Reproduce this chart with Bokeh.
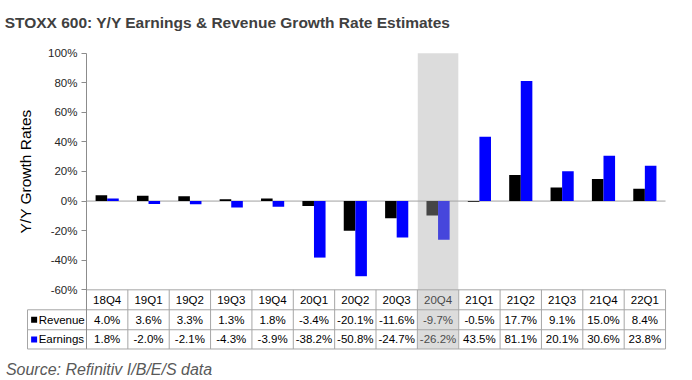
import numpy as np
from bokeh.plotting import figure
from bokeh.models import ColumnDataSource, LinearAxis, FixedTicker, PrintfTickFormatter, Range1d
from bokeh.transform import dodge
from bokeh.core.properties import value
from bokeh.embed import file_html
from bokeh.resources import INLINE

# ---- data ----
categories = ["18Q4", "19Q1", "19Q2", "19Q3", "19Q4", "20Q1", "20Q2",
              "20Q3", "20Q4", "21Q1", "21Q2", "21Q3", "21Q4", "22Q1"]
revenue = [4.0, 3.6, 3.3, 1.3, 1.8, -3.4, -20.1, -11.6, -9.7, -0.5, 17.7, 9.1, 15.0, 8.4]
earnings = [1.8, -2.0, -2.1, -4.3, -3.9, -38.2, -50.8, -24.7, -26.2, 43.5, 81.1, 20.1, 30.6, 23.8]
series_names = ["Revenue", "Earnings"]
highlight = "20Q4"
y_ticks = [-60, -40, -20, 0, 20, 40, 60, 80, 100]

title_text = "STOXX 600: Y/Y Earnings & Revenue Growth Rate Estimates"
source_text = "Source: Refinitiv I/B/E/S data"
y_label = "Y/Y Growth Rates"

# ---- styling / layout constants ----
REV_COLOR = "#000000"
EARN_COLOR = "#0000ff"
GRID = "#a6a6a6"
FONT = "Liberation Sans"
BAR_W = 0.28
ROW_TOP, ROW1, ROW2, ROW3 = -60, -73.5, -87.0, -100.0
LABEL_LEFT = -1.926
X0 = -2.579

n = len(categories)
xs = np.arange(n)

src = ColumnDataSource(dict(
    x=xs, cat=categories, rev=revenue, earn=earnings,
    rev_txt=[f"{v:.1f}%" for v in revenue],
    earn_txt=[f"{v:.1f}%" for v in earnings],
))

p = figure(width=692, height=380, output_backend="svg", toolbar_location=None,
           x_range=Range1d(X0, 14.152), y_range=Range1d(-121.3, 135.6),
           x_axis_location=None, y_axis_location=None,
           min_border=0, outline_line_color=None)
p.xgrid.visible = False
p.ygrid.visible = False

# y axis placed at the left edge of the first category
ax = LinearAxis(fixed_location=-0.5, bounds=(-100, 100),
                ticker=FixedTicker(ticks=y_ticks),
                formatter=PrintfTickFormatter(format="%d%%"))
ax.axis_line_color = "#8c8c8c"
ax.major_tick_line_color = "#8c8c8c"
ax.major_tick_out = 5
ax.major_tick_in = 0
ax.minor_tick_line_color = None
ax.major_label_standoff = 4
ax.major_label_text_font = FONT
ax.major_label_text_font_size = "11.5px"
ax.major_label_text_color = "#262626"
p.add_layout(ax, "left")

# zero line
p.segment(x0=-0.5, x1=n - 0.5, y0=0, y1=0, line_color="#a0a0a0", line_width=1)

# bars
p.vbar(x=dodge("x", -BAR_W / 2), top="rev", bottom=0, width=BAR_W,
       source=src, fill_color=REV_COLOR, line_color=None)
p.vbar(x=dodge("x", BAR_W / 2), top="earn", bottom=0, width=BAR_W,
       source=src, fill_color=EARN_COLOR, line_color=None)

# data table grid
edges = np.arange(n + 1) - 0.5
p.segment(x0=edges, x1=edges, y0=[ROW_TOP] * (n + 1), y1=[ROW3] * (n + 1),
          line_color=GRID, line_width=1)
p.segment(x0=[-0.5, LABEL_LEFT, LABEL_LEFT, LABEL_LEFT],
          x1=[n - 0.5] * 4,
          y0=[ROW_TOP, ROW1, ROW2, ROW3], y1=[ROW_TOP, ROW1, ROW2, ROW3],
          line_color=GRID, line_width=1)
p.segment(x0=[LABEL_LEFT], x1=[LABEL_LEFT], y0=[ROW1], y1=[ROW3],
          line_color=GRID, line_width=1)

# table text
tkw = dict(text_font=value(FONT), text_font_size="11.5px", text_color="#000000",
           text_align="center", text_baseline="middle", source=src)
p.text(x="x", y=(ROW_TOP + ROW1) / 2, text="cat", **tkw)
p.text(x="x", y=(ROW1 + ROW2) / 2, text="rev_txt", **tkw)
p.text(x="x", y=(ROW2 + ROW3) / 2, text="earn_txt", **tkw)

# row labels with legend keys
row_y = [(ROW1 + ROW2) / 2, (ROW2 + ROW3) / 2]
p.scatter(x=[LABEL_LEFT + 0.16] * 2, y=row_y, marker="square", size=6,
          fill_color=[REV_COLOR, EARN_COLOR], line_color=None)
p.text(x=[LABEL_LEFT + 0.27] * 2, y=row_y, text=series_names,
       text_font=value(FONT), text_font_size="11.5px", text_color="#000000",
       text_align="left", text_baseline="middle")

# highlight overlay on 20Q4
hi = categories.index(highlight)
p.quad(left=hi - 0.49, right=hi + 0.49, bottom=ROW3, top=100,
       fill_color="#aaaaaa", fill_alpha=0.41, line_color=None)

# y axis title
p.text(x=[-1.975], y=[20], text=[y_label], angle=np.pi / 2,
       text_font=value(FONT), text_font_size="15.5px", text_color="#000000",
       text_align="center", text_baseline="middle")

# chart title and source note
p.text(x=[X0 + 0.1], y=[120.4], text=[title_text],
       text_font=value(FONT), text_font_style="bold",
       text_font_size="15.5px", text_color="#404040",
       text_align="left", text_baseline="alphabetic")
p.text(x=[X0 + 0.13], y=[-113.9], text=[source_text],
       text_font=value(FONT), text_font_style="italic",
       text_font_size="16px", text_color="#595959",
       text_align="left", text_baseline="alphabetic")

open("out.html", "w").write(file_html(p, INLINE))
